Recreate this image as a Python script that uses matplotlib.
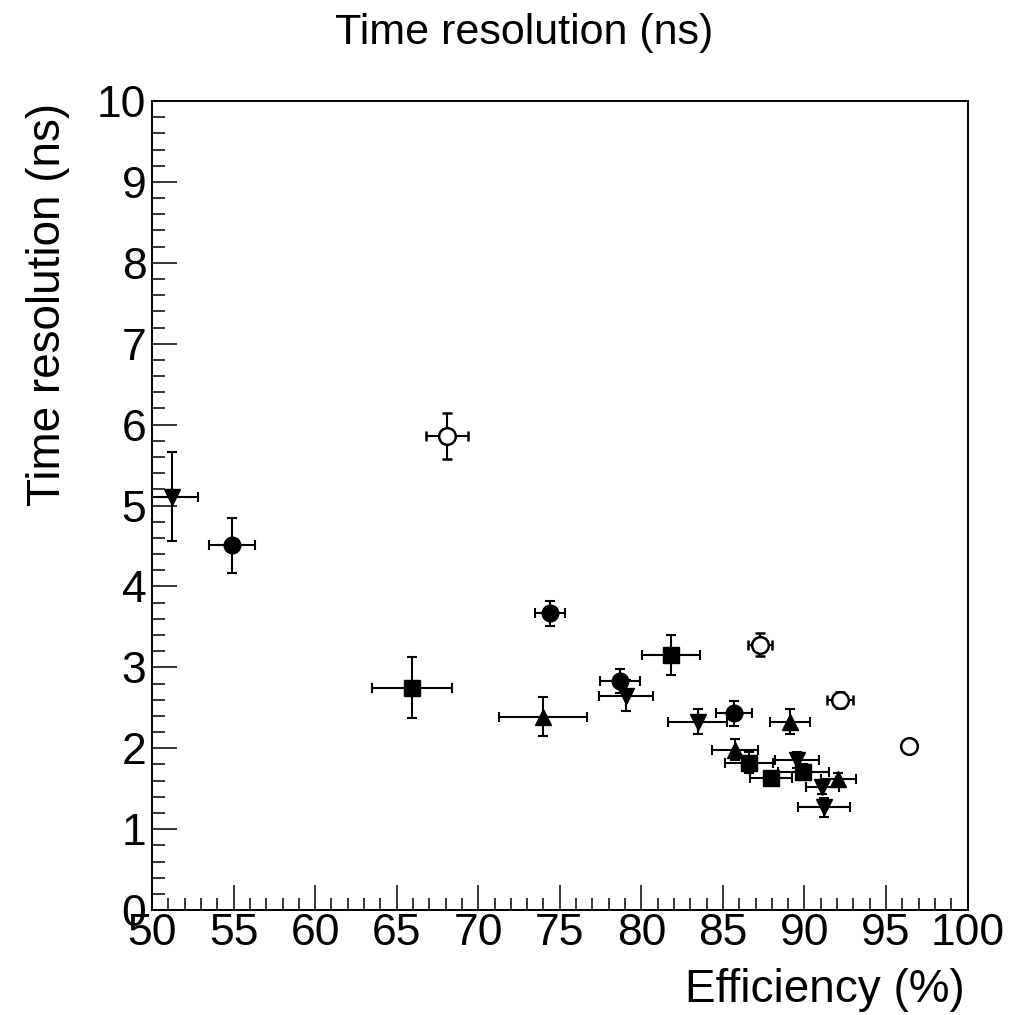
import matplotlib
matplotlib.use("Agg")
import matplotlib.pyplot as plt
from matplotlib.ticker import MultipleLocator

plt.rcParams["font.family"] = ["Liberation Sans", "DejaVu Sans"]

# efficiency (%), time resolution (ns), x error, y error -- one set per marker style
circ_eff = [54.89, 74.40, 78.69, 85.68]
circ_res = [4.51, 3.67, 2.83, 2.43]
circ_xerr = [1.42, 0.90, 1.21, 1.11]
circ_yerr = [0.34, 0.155, 0.15, 0.155]

sq_eff = [65.96, 81.82, 86.60, 87.95, 89.93]
sq_res = [2.75, 3.15, 1.82, 1.63, 1.71]
sq_xerr = [2.45, 1.78, 1.48, 1.30, 1.58]
sq_yerr = [0.38, 0.25, 0.13, 0.08, 0.10]

up_eff = [73.97, 89.12, 85.74, 92.08]
up_res = [2.39, 2.33, 1.98, 1.62]
up_xerr = [2.69, 1.22, 1.40, 1.07]
up_yerr = [0.24, 0.15, 0.13, 0.08]

dn_eff = [51.24, 79.04, 83.46, 89.53, 91.10, 91.20]
dn_res = [5.11, 2.65, 2.33, 1.85, 1.52, 1.27]
dn_xerr = [1.56, 1.66, 1.82, 1.35, 1.01, 1.58]
dn_yerr = [0.55, 0.19, 0.16, 0.10, 0.08, 0.12]

open_eff = [68.11, 87.28, 92.18, 96.39]
open_res = [5.86, 3.28, 2.60, 2.03]
open_xerr = [1.29, 0.74, 0.78, 0.35]
open_yerr = [0.28, 0.14, 0.10, 0.05]

fig = plt.figure(figsize=(10.19, 10.15), dpi=100)
ax = fig.add_axes([0.1492, 0.1034, 0.8003, 0.7971])

common = dict(ls="none", ecolor="black", elinewidth=1.5, capsize=3.5, capthick=1.5)
ax.errorbar(circ_eff, circ_res, xerr=circ_xerr, yerr=circ_yerr, marker="o", ms=12,
            mfc="black", mec="black", **common)
ax.errorbar(sq_eff, sq_res, xerr=sq_xerr, yerr=sq_yerr, marker="s", ms=11,
            mfc="black", mec="black", **common)
ax.errorbar(up_eff, up_res, xerr=up_xerr, yerr=up_yerr, marker="^", ms=12,
            mfc="black", mec="black", **common)
ax.errorbar(dn_eff, dn_res, xerr=dn_xerr, yerr=dn_yerr, marker="v", ms=12,
            mfc="black", mec="black", **common)
ax.errorbar(open_eff, open_res, xerr=open_xerr, yerr=open_yerr, marker="o", ms=12,
            mfc="white", mec="black", mew=1.8, **common)

ax.set_xlim(50, 100)
ax.set_ylim(0, 10)
ax.xaxis.set_major_locator(MultipleLocator(5))
ax.xaxis.set_minor_locator(MultipleLocator(1))
ax.yaxis.set_major_locator(MultipleLocator(1))
ax.yaxis.set_minor_locator(MultipleLocator(0.2))
ax.tick_params(which="both", direction="in", top=False, right=False, width=1.1, colors="black")
ax.tick_params(which="major", length=18)
ax.tick_params(which="minor", length=9)
ax.tick_params(axis="x", which="major", labelsize=32, pad=2)
ax.tick_params(axis="y", which="major", labelsize=32, pad=4)
for sp in ax.spines.values():
    sp.set_linewidth(1.4)

ax.set_xlabel("Efficiency (%)", fontsize=33, loc="right", va="baseline")
ax.xaxis.set_label_coords(0.997, -0.1133)
ax.set_ylabel("Time resolution (ns)", fontsize=33, loc="top", va="baseline")
ax.yaxis.set_label_coords(-0.113, 0.998)

fig.text(0.514, 0.957, "Time resolution (ns)", fontsize=31, ha="center", va="baseline")

fig.savefig("out.png", dpi=100)
